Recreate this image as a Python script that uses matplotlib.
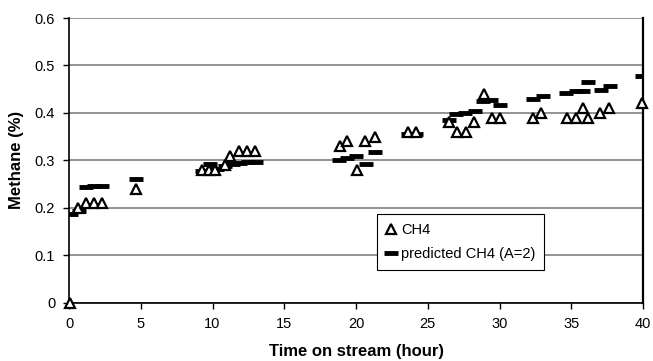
import matplotlib
matplotlib.use("Agg")
import matplotlib.pyplot as plt

plt.rcParams['font.family'] = ['Liberation Sans', 'DejaVu Sans']

# measured CH4 (%)
ch4_t = [0.1, 0.65, 1.2, 1.75, 2.3, 4.67,
         9.25, 9.75, 10.2, 10.9, 11.2, 11.85, 12.4, 12.95,
         18.9, 19.4, 20.05, 20.65, 21.3,
         23.6, 24.15, 26.5, 27.05, 27.65, 28.25, 28.9, 29.45, 30.05,
         32.3, 32.9, 34.7, 35.3, 35.8, 36.2, 37.0, 37.65, 39.9]
ch4_y = [0.0, 0.20, 0.21, 0.21, 0.21, 0.24,
         0.28, 0.28, 0.28, 0.29, 0.31, 0.32, 0.32, 0.32,
         0.33, 0.34, 0.28, 0.34, 0.35,
         0.36, 0.36, 0.38, 0.36, 0.36, 0.38, 0.44, 0.39, 0.39,
         0.39, 0.40, 0.39, 0.39, 0.41, 0.39, 0.40, 0.41, 0.42]

# predicted CH4 (A=2)
pred_t = [0.15, 0.7, 1.2, 1.75, 2.3, 4.67,
          9.3, 9.8, 10.3, 10.9, 11.4, 11.9, 12.45, 13.0,
          18.8, 19.4, 20.0, 20.7, 21.3,
          23.6, 24.2, 26.5, 27.0, 27.6, 28.3, 28.85, 29.4, 30.0,
          32.3, 33.0, 34.6, 35.3, 35.8, 36.2, 37.1, 37.7, 39.9]
pred_y = [0.187, 0.194, 0.243, 0.245, 0.247, 0.261,
          0.278, 0.293, 0.282, 0.288, 0.292, 0.295, 0.296, 0.297,
          0.300, 0.304, 0.309, 0.292, 0.318,
          0.355, 0.355, 0.386, 0.397, 0.400, 0.404, 0.426, 0.428, 0.416,
          0.429, 0.435, 0.443, 0.447, 0.447, 0.465, 0.448, 0.456, 0.477]

fig = plt.figure(figsize=(6.53, 3.61), dpi=100)
ax = fig.add_axes([0.1057, 0.1615, 0.879, 0.7885])

ax.plot(pred_t, pred_y, linestyle='none', marker='_', color='black',
        markersize=10, markeredgewidth=3.5, label='predicted CH4 (A=2)', zorder=3)
ax.plot(ch4_t, ch4_y, linestyle='none', marker='^', markerfacecolor='white',
        markeredgecolor='black', markersize=7.5, markeredgewidth=1.6,
        label='CH4', zorder=4, clip_on=False)

ax.set_xlim(0, 40)
ax.set_ylim(0, 0.6)
ax.set_xticks(range(0, 41, 5))
ax.set_yticks([0, 0.1, 0.2, 0.3, 0.4, 0.5, 0.6])
ax.set_yticklabels(['0', '0.1', '0.2', '0.3', '0.4', '0.5', '0.6'])
ax.yaxis.grid(True, color='#808080', linewidth=1.2)
ax.set_axisbelow(True)

ax.spines['top'].set_visible(False)
ax.spines['left'].set_linewidth(1.2)
ax.spines['bottom'].set_linewidth(1.2)
ax.spines['right'].set_linewidth(1.6)
ax.tick_params(direction='out', length=4, width=1, labelsize=10.5, pad=6)

ax.set_xlabel('Time on stream (hour)', fontsize=12, fontweight='bold', labelpad=10)
ax.set_ylabel('Methane (%)', fontsize=12, fontweight='bold', labelpad=8)

h, l = ax.get_legend_handles_labels()
leg = ax.legend([h[1], h[0]], [l[1], l[0]], loc='lower left',
                bbox_to_anchor=(0.523, 0.09, 0.318, 0.186), mode='expand',
                fancybox=False, framealpha=1, edgecolor='black', fontsize=10.5,
                handlelength=0.8, handletextpad=0.3, borderpad=0.6,
                labelspacing=0.7)
leg.get_frame().set_linewidth(0.8)

fig.savefig('out.png', dpi=100)
